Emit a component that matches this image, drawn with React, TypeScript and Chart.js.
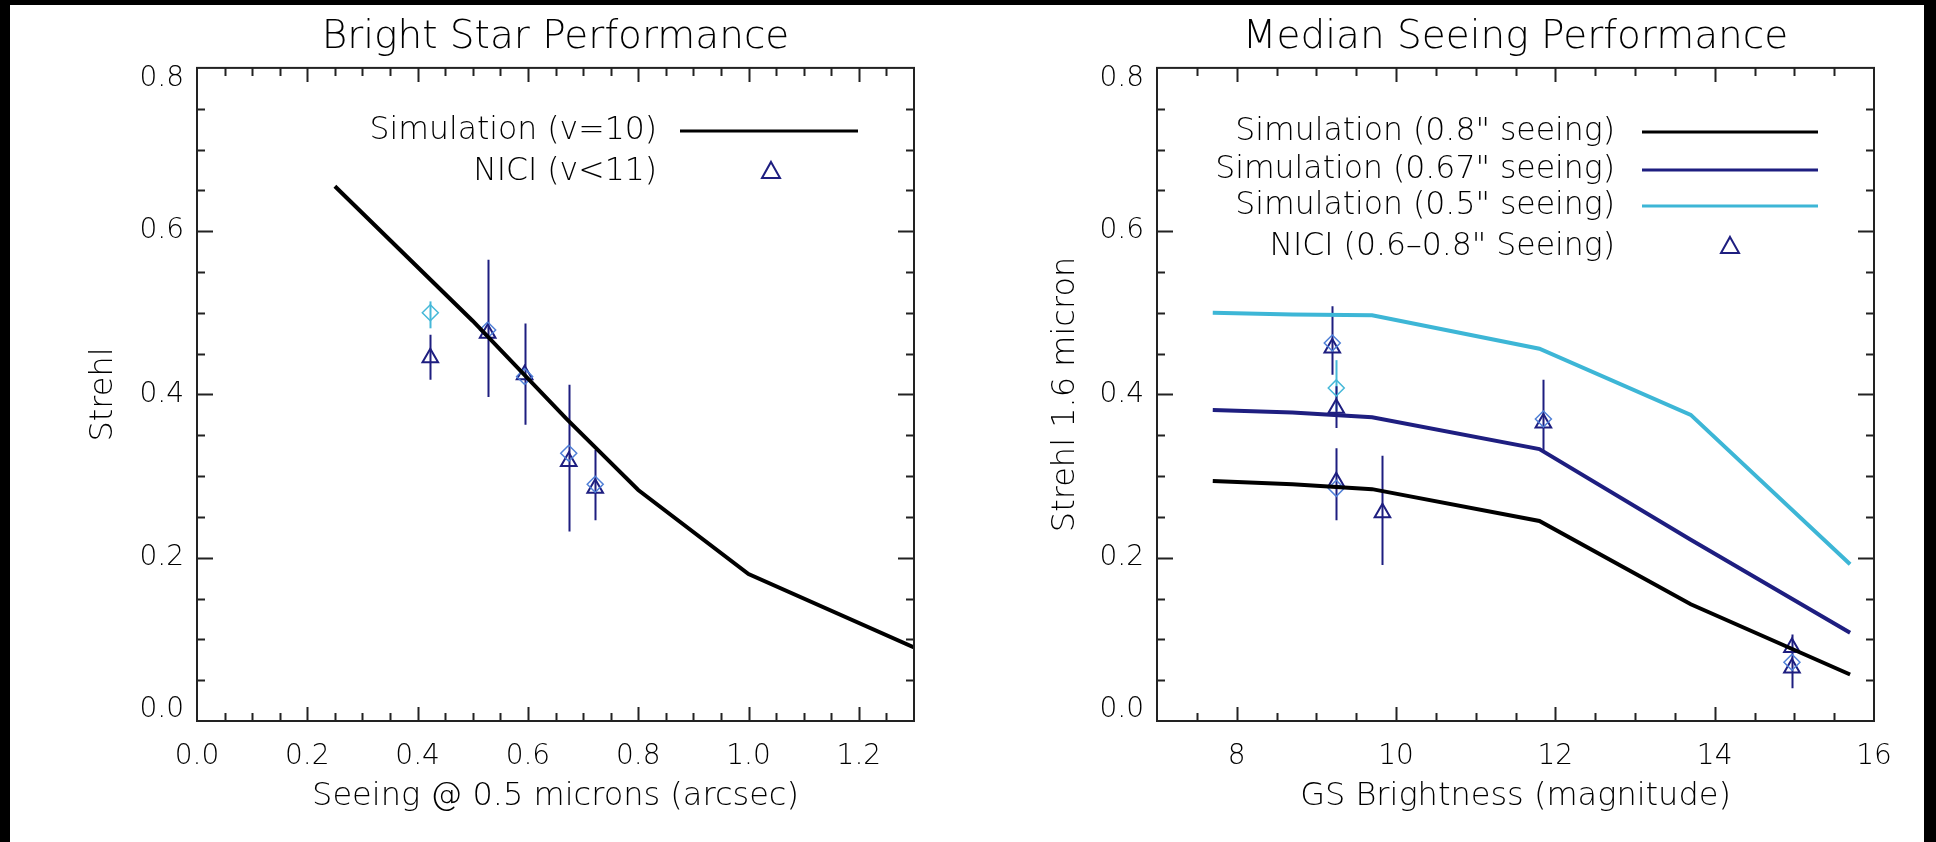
import React, { useEffect, useRef } from 'react';
import { Chart, registerables } from 'chart.js';

Chart.register(...registerables);

// ---------- Left panel data ----------
const leftTitle = 'Bright Star Performance';
const leftXTitle = 'Seeing @ 0.5 microns (arcsec)';
const leftYTitle = 'Strehl';
const leftXTicks = [0, 0.2, 0.4, 0.6, 0.8, 1.0, 1.2];
const yTicks = [0, 0.2, 0.4, 0.6, 0.8];
const leftLegendLabels = ['Simulation (v=10)', 'NICI (v<11)'];

const simSeeing = [0.25, 0.5, 0.67, 0.8, 1.0, 1.3];
const simStrehl = [0.655, 0.49, 0.37, 0.283, 0.18, 0.09];

const niciSeeing = [0.423, 0.527, 0.594, 0.674, 0.722];
const niciStrehl = [0.445, 0.475, 0.424, 0.318, 0.285];
const niciLow = [0.418, 0.397, 0.363, 0.232, 0.246];
const niciHigh = [0.473, 0.565, 0.487, 0.412, 0.332];

const diaSeeing = [0.423, 0.527, 0.594, 0.674, 0.722];
const diaStrehl = [0.5, 0.479, 0.422, 0.328, 0.29];
const diaLow = [0.481, null, null, null, null];
const diaHigh = [0.514, null, null, null, null];

// ---------- Right panel data ----------
const rightTitle = 'Median Seeing Performance';
const rightXTitle = 'GS Brightness (magnitude)';
const rightYTitle = 'Strehl 1.6 micron';
const rightXTicks = [8, 10, 12, 14, 16];
const rightLegendLabels = [
  'Simulation (0.8" seeing)',
  'Simulation (0.67" seeing)',
  'Simulation (0.5" seeing)',
  'NICI (0.6\u20130.8" Seeing)',
];

const gsMag = [7.7, 8.7, 9.7, 11.8, 13.7, 15.7];
const sim08 = [0.294, 0.29, 0.284, 0.245, 0.143, 0.057];
const sim067 = [0.381, 0.378, 0.372, 0.333, 0.222, 0.108];
const sim05 = [0.5, 0.498, 0.497, 0.456, 0.375, 0.192];

const rNiciMag = [9.2, 9.25, 9.25, 9.83, 11.85, 14.97, 14.97];
const rNiciStrehl = [0.457, 0.383, 0.293, 0.255, 0.365, 0.09, 0.065];
const rNiciLow = [0.424, 0.359, 0.246, 0.191, 0.331, 0.075, 0.04];
const rNiciHigh = [0.508, 0.41, 0.334, 0.325, 0.418, 0.106, 0.085];

const rDiaMag = [9.2, 9.25, 9.25, 11.85, 14.97];
const rDiaStrehl = [0.463, 0.408, 0.285, 0.37, 0.072];
const rDiaLow = [null, 0.38, null, null, null];
const rDiaHigh = [null, 0.442, null, null, null];

// ---------- styles ----------
const FONT = "'DejaVu Sans', sans-serif";
const TEXT = '#000';
const NAVY = '#1e1e80';
const CYAN = '#3db6d6';
const DIAMOND = '#4f7fd6';
const DIAMOND_CYAN = '#45b8d8';
const WEIGHT = '200';

const pts = (xs: number[], ys: number[]) => xs.map((x, i) => ({ x, y: ys[i] }));

const errorBars = {
  id: 'errorBars',
  beforeDatasetsDraw(chart: any) {
    const { ctx, scales } = chart;
    const xs = scales.x;
    const ys = scales.y;
    chart.data.datasets.forEach((ds: any) => {
      if (!ds.errLow) return;
      ctx.save();
      ctx.strokeStyle = ds.errColor || ds.borderColor;
      ctx.lineWidth = 2;
      ctx.beginPath();
      ds.data.forEach((p: any, j: number) => {
        const lo = ds.errLow[j];
        const hi = ds.errHigh[j];
        if (lo == null || hi == null) return;
        const px = Math.round(xs.getPixelForValue(p.x)) + 0.5;
        ctx.moveTo(px, ys.getPixelForValue(lo));
        ctx.lineTo(px, ys.getPixelForValue(hi));
      });
      ctx.stroke();
      ctx.restore();
    });
  },
};

const idlFrame = {
  id: 'idlFrame',
  afterDatasetsDraw(chart: any, _a: any, opts: any) {
    const { ctx, chartArea: a, scales } = chart;
    const xs = scales.x;
    const ys = scales.y;
    ctx.save();
    ctx.strokeStyle = '#222';
    ctx.lineWidth = 2;
    ctx.strokeRect(a.left, a.top, a.right - a.left, a.bottom - a.top);
    ctx.lineWidth = 2;
    ctx.beginPath();
    const eps = 1e-6;
    const isMajor = (v: number, m: number) => Math.abs(v / m - Math.round(v / m)) < 1e-6;
    for (let k = Math.ceil(xs.min / opts.xMinor - eps); k * opts.xMinor <= xs.max + eps; k++) {
      const v = k * opts.xMinor;
      if (Math.abs(v - xs.min) < eps || Math.abs(v - xs.max) < eps) continue;
      const len = isMajor(v, opts.xMajor) ? opts.majorLen : opts.minorLen;
      const p = Math.round(xs.getPixelForValue(v)) + 0.5;
      ctx.moveTo(p, a.bottom);
      ctx.lineTo(p, a.bottom - len);
      ctx.moveTo(p, a.top);
      ctx.lineTo(p, a.top + len);
    }
    for (let k = Math.ceil(ys.min / opts.yMinor - eps); k * opts.yMinor <= ys.max + eps; k++) {
      const v = k * opts.yMinor;
      if (Math.abs(v - ys.min) < eps || Math.abs(v - ys.max) < eps) continue;
      const len = isMajor(v, opts.yMajor) ? opts.majorLen + 2 : opts.minorLen;
      const p = Math.round(ys.getPixelForValue(v)) + 0.5;
      ctx.moveTo(a.left, p);
      ctx.lineTo(a.left + len, p);
      ctx.moveTo(a.right, p);
      ctx.lineTo(a.right - len, p);
    }
    ctx.stroke();
    ctx.restore();
  },
};

const idlLegend = {
  id: 'idlLegend',
  afterDraw(chart: any, _a: any, opts: any) {
    const { ctx, chartArea: a } = chart;
    ctx.save();
    ctx.font = `${WEIGHT} ${opts.fontSize}px ${FONT}`;
    ctx.fillStyle = TEXT;
    ctx.textAlign = 'right';
    ctx.textBaseline = 'middle';
    opts.items.forEach((it: any, i: number) => {
      const y = a.top + opts.rows[i];
      ctx.fillText(it.text, a.left + opts.textRight, y);
      if (it.kind === 'line') {
        ctx.strokeStyle = it.color;
        ctx.lineWidth = 3;
        ctx.beginPath();
        ctx.moveTo(a.left + opts.sampleStart, y);
        ctx.lineTo(a.left + opts.sampleEnd, y);
        ctx.stroke();
      } else {
        const cx = a.left + opts.markerX;
        const r = 10;
        ctx.strokeStyle = it.color;
        ctx.lineWidth = 2;
        ctx.beginPath();
        ctx.moveTo(cx, y - r);
        ctx.lineTo(cx + r * 0.9, y + r * 0.6);
        ctx.lineTo(cx - r * 0.9, y + r * 0.6);
        ctx.closePath();
        ctx.stroke();
      }
    });
    ctx.restore();
  },
};

function makeConfig(p: any) {
  return {
    type: 'scatter',
    data: { datasets: p.datasets },
    plugins: [errorBars, idlFrame, idlLegend],
    options: {
      animation: false,
      responsive: false,
      devicePixelRatio: 1,
      layout: { padding: { left: 0, right: p.padRight, top: 0, bottom: 0 } },
      plugins: {
        legend: { display: false },
        tooltip: { enabled: false },
        title: {
          display: true,
          text: p.title,
          fullSize: false,
          color: TEXT,
          font: { family: FONT, size: 39, weight: WEIGHT, lineHeight: 1.1 },
          padding: { top: 16, bottom: 9 },
        },
        idlFrame: p.frame,
        idlLegend: p.legend,
      },
      scales: {
        x: {
          type: 'linear',
          min: p.xMin,
          max: p.xMax,
          afterBuildTicks: (s: any) => {
            s.ticks = p.xTicks.map((v: number) => ({ value: v }));
          },
          afterFit: (s: any) => {
            s.height = 121;
          },
          grid: { display: false, drawTicks: false },
          border: { display: false },
          ticks: {
            padding: 19,
            color: TEXT,
            font: { family: FONT, size: 28, weight: WEIGHT },
            callback: p.xFmt,
          },
          title: {
            display: true,
            text: p.xTitle,
            color: TEXT,
            font: { family: FONT, size: 32, weight: WEIGHT },
            padding: { top: 0, bottom: 26 },
          },
        },
        y: {
          type: 'linear',
          min: 0,
          max: 0.8,
          afterBuildTicks: (s: any) => {
            s.ticks = yTicks.map((v) => ({ value: v }));
          },
          afterFit: (s: any) => {
            s.width = p.yWidth;
          },
          grid: { display: false, drawTicks: false },
          border: { display: false },
          ticks: {
            padding: 13,
            color: TEXT,
            font: { family: FONT, size: 28, weight: WEIGHT, lineHeight: 0.8 },
            callback: (v: number) => {
              const s = Number(v).toFixed(1);
              if (v >= 0.8 - 1e-9) return ['', s];
              if (v <= 1e-9) return [s, ''];
              return s;
            },
          },
          title: {
            display: true,
            text: p.yTitle,
            color: TEXT,
            font: { family: FONT, size: 32, weight: WEIGHT },
            padding: { top: p.yTitlePad, bottom: 0 },
          },
        },
      },
    },
  };
}

const triangleDs = (label: string, xs: number[], ys: number[], lo: number[], hi: number[]) => ({
  label,
  data: pts(xs, ys),
  pointStyle: 'triangle',
  pointRadius: 9,
  pointBorderWidth: 2,
  borderColor: NAVY,
  backgroundColor: 'rgba(0,0,0,0)',
  showLine: false,
  errLow: lo,
  errHigh: hi,
  errColor: NAVY,
});

const diamondDs = (xs: number[], ys: number[], lo: any[], hi: any[], colors: string[]) => ({
  label: 'diamond',
  data: pts(xs, ys),
  pointStyle: 'rectRot',
  pointRadius: 8,
  pointBorderWidth: 1.5,
  borderColor: colors,
  pointBorderColor: colors,
  backgroundColor: 'rgba(0,0,0,0)',
  showLine: false,
  errLow: lo,
  errHigh: hi,
  errColor: DIAMOND_CYAN,
});

const lineDs = (label: string, xs: number[], ys: number[], color: string) => ({
  label,
  data: pts(xs, ys),
  showLine: true,
  borderColor: color,
  backgroundColor: color,
  borderWidth: 4,
  pointRadius: 0,
  tension: 0,
});

export default function App() {
  const leftRef = useRef<HTMLCanvasElement | null>(null);
  const rightRef = useRef<HTMLCanvasElement | null>(null);

  useEffect(() => {
    const frameOpts = { minorLen: 8, majorLen: 14 };
    const left = new Chart(
      leftRef.current as HTMLCanvasElement,
      makeConfig({
        title: leftTitle,
        xTitle: leftXTitle,
        yTitle: leftYTitle,
        xMin: 0,
        xMax: 1.3,
        xTicks: leftXTicks,
        xFmt: (v: number) => Number(v).toFixed(1),
        padRight: 54,
        yWidth: 197,
        yTitlePad: 84,
        frame: { ...frameOpts, xMinor: 0.05, xMajor: 0.2, yMinor: 0.05, yMajor: 0.2 },
        legend: {
          fontSize: 31.5,
          textRight: 460,
          sampleStart: 483,
          sampleEnd: 661,
          markerX: 574,
          rows: [63, 104],
          items: [
            { text: leftLegendLabels[0], kind: 'line', color: '#000' },
            { text: leftLegendLabels[1], kind: 'marker', color: NAVY },
          ],
        },
        datasets: [
          lineDs(leftLegendLabels[0], simSeeing, simStrehl, '#000'),
          diamondDs(diaSeeing, diaStrehl, diaLow, diaHigh, [DIAMOND_CYAN, DIAMOND, DIAMOND, DIAMOND, DIAMOND]),
          triangleDs(leftLegendLabels[1], niciSeeing, niciStrehl, niciLow, niciHigh),
        ],
      }) as any
    );
    const right = new Chart(
      rightRef.current as HTMLCanvasElement,
      makeConfig({
        title: rightTitle,
        xTitle: rightXTitle,
        yTitle: rightYTitle,
        xMin: 7,
        xMax: 16,
        xTicks: rightXTicks,
        xFmt: (v: number) => String(Math.round(v)),
        padRight: 62,
        yWidth: 189,
        yTitlePad: 78,
        frame: { ...frameOpts, xMinor: 0.5, xMajor: 2, yMinor: 0.05, yMajor: 0.2 },
        legend: {
          fontSize: 31.5,
          textRight: 458,
          sampleStart: 485,
          sampleEnd: 661,
          markerX: 573,
          rows: [64, 102, 138, 179],
          items: [
            { text: rightLegendLabels[0], kind: 'line', color: '#000' },
            { text: rightLegendLabels[1], kind: 'line', color: NAVY },
            { text: rightLegendLabels[2], kind: 'line', color: CYAN },
            { text: rightLegendLabels[3], kind: 'marker', color: NAVY },
          ],
        },
        datasets: [
          lineDs(rightLegendLabels[0], gsMag, sim08, '#000'),
          lineDs(rightLegendLabels[1], gsMag, sim067, NAVY),
          lineDs(rightLegendLabels[2], gsMag, sim05, CYAN),
          diamondDs(rDiaMag, rDiaStrehl, rDiaLow, rDiaHigh, [DIAMOND, DIAMOND_CYAN, DIAMOND, DIAMOND, DIAMOND]),
          triangleDs(rightLegendLabels[3], rNiciMag, rNiciStrehl, rNiciLow, rNiciHigh),
        ],
      }) as any
    );
    return () => {
      left.destroy();
      right.destroy();
    };
  }, []);

  return (
    <div
      style={{
        position: 'fixed',
        left: 0,
        top: 0,
        width: 1936,
        height: 842,
        background: '#000',
        overflow: 'hidden',
      }}
    >
      <div style={{ position: 'absolute', left: 10, top: 5, width: 1914, height: 837, background: '#fff' }} />
      <canvas
        ref={leftRef}
        width={968}
        height={842}
        style={{ position: 'absolute', left: 0, top: 0, width: 968, height: 842 }}
      />
      <canvas
        ref={rightRef}
        width={968}
        height={842}
        style={{ position: 'absolute', left: 968, top: 0, width: 968, height: 842 }}
      />
    </div>
  );
}
